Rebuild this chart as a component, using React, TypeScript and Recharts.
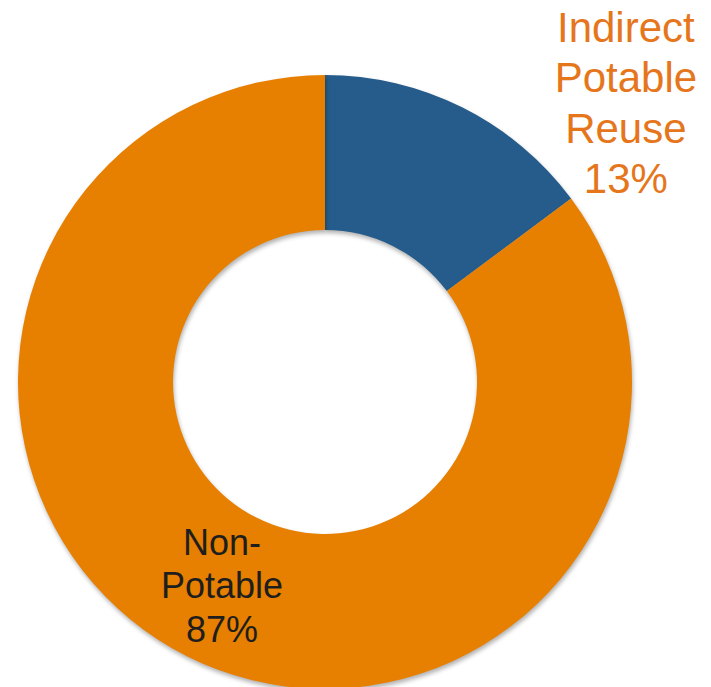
import React from 'react';
import { PieChart, Pie, Cell } from 'recharts';

const categories = ['Indirect Potable Reuse', 'Non-Potable'];
const values = [14.8, 85.2];
const labelLines = [
  ['Indirect', 'Potable', 'Reuse', '13%'],
  ['Non-', 'Potable', '87%'],
];
const colors = ['#265C8B', '#E77F00'];

const data = categories.map((name, i) => ({ name, value: values[i] }));

const FONT = '"Liberation Sans", Arial, sans-serif';

const renderLabel = (props: any) => {
  const { cx, cy, midAngle, innerRadius, outerRadius, index } = props;
  const lines = labelLines[index];
  if (index === 0) {
    const x = cx + outerRadius * 0.98;
    const yMid = cy - outerRadius * 0.862;
    const lh = 50.5;
    const y0 = yMid - ((lines.length - 1) * lh) / 2;
    return (
      <text x={x} y={y0} textAnchor="middle" fill="#E5761C" fontFamily={FONT} fontSize={42}>
        {lines.map((l, k) => (
          <tspan key={k} x={x} y={y0 + k * lh}>{l}</tspan>
        ))}
      </text>
    );
  }
  const RAD = Math.PI / 180;
  const r = (innerRadius + outerRadius) / 2;
  const x = cx + r * Math.cos(-midAngle * RAD);
  const yc = cy + r * Math.sin(-midAngle * RAD);
  const lh = 43.5;
  const y0 = yc - ((lines.length - 1) * lh) / 2 + 11;
  return (
    <text x={x} y={y0} textAnchor="middle" fill="#1E1E1E" fontFamily={FONT} fontSize={36}>
      {lines.map((l, k) => (
        <tspan key={k} x={x} y={y0 + k * lh}>{l}</tspan>
      ))}
    </text>
  );
};

export default function App() {
  return (
    <div style={{ position: 'absolute', left: 0, top: 0, width: 711, height: 687, background: '#fff' }}>
      <style>{'.recharts-pie-sector{filter:drop-shadow(1px 3px 2px rgba(0,0,0,0.3));}'}</style>
      <PieChart width={711} height={687} margin={{ top: 0, right: 0, bottom: 0, left: 0 }}>
        <Pie
          data={data}
          dataKey="value"
          nameKey="name"
          cx={325}
          cy={382}
          innerRadius={152}
          outerRadius={307}
          startAngle={90}
          endAngle={-270}
          stroke="none"
          label={renderLabel}
          labelLine={false}
          isAnimationActive={false}
        >
          {data.map((d, i) => (
            <Cell key={d.name} fill={colors[i]} stroke="none" />
          ))}
        </Pie>
      </PieChart>
    </div>
  );
}
